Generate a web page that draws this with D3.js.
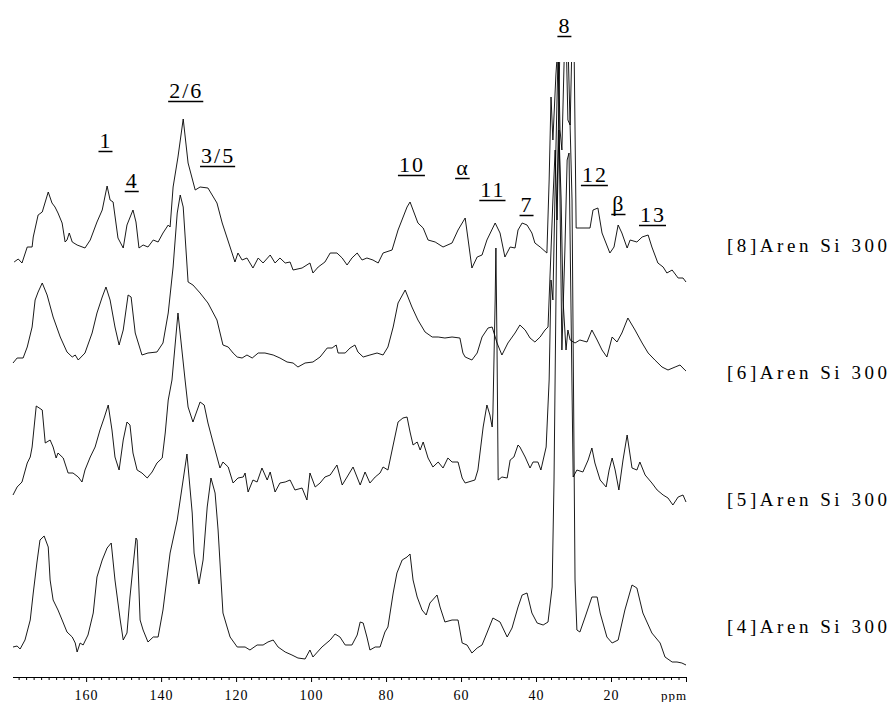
<!DOCTYPE html>
<html>
<head>
<meta charset="utf-8">
<script src="https://cdn.jsdelivr.net/npm/d3@7"></script>
<style>
  html, body { margin: 0; padding: 0; background: #fff; }
  svg { display: block; }
  svg text { font-family: "Liberation Serif", "DejaVu Serif", "Times New Roman", serif !important; fill: #000; }
</style>
</head>
<body>
<div id="chart"></div>
<script>
// 13C CP/MAS NMR spectra, chemical shift in ppm, intensity in arbitrary units
const ppmTicks = [160, 140, 120, 100, 80, 60, 40, 20];
const axisUnit = "ppm";

const sampleNames = ["[8]Aren Si 300", "[6]Aren Si 300", "[5]Aren Si 300", "[4]Aren Si 300"];
// vertical stacking offset of each spectrum (same units as the intensities)
const stackOffsets = [397, 307, 172, 12];

const spectrum8 = [
  [179.2,18],[178.1,21],[177.1,17],[175.7,33],[174.4,33],[174.1,43],[172.8,65],[171.7,68],[170.1,88],[169.1,77],
  [168.3,73],[167.5,67],[166.4,57],[165.6,38],[165.1,40],[164.5,47],[163.7,38],[162.4,35],[160.3,32],[158.9,40],
  [157.1,58],[155.7,70],[154.4,94],[153.6,80],[152.8,78],[151.5,42],[150.1,32],[149.1,55],[147.5,70],[146.7,58],
  [145.9,32],[144.8,35],[143.5,33],[142.1,40],[140.8,38],[139.5,47],[138.1,55],[137.6,53],[136.8,93],[135.5,123],
  [134.1,161],[132.8,117],[130.9,90],[129.6,93],[127.5,92],[125.1,77],[123.7,57],[121.6,33],[120.3,18],[119.5,27],
  [118.4,20],[117.1,22],[115.5,12],[114.1,22],[112.8,17],[110.9,25],[109.6,17],[108.3,22],[106.9,17],[105.6,18],
  [104.8,10],[102.4,12],[100.3,17],[99.5,7],[98.1,13],[96.3,18],[94.9,27],[93.1,27],[91.7,22],[90.4,15],
  [89.1,22],[87.7,27],[86.4,20],[85.1,22],[83.5,20],[82.1,17],[80.8,27],[78.4,30],[76.8,50],[74.4,73],
  [73.6,78],[72.8,70],[71.5,57],[70.1,52],[68.8,40],[66.9,38],[64.8,33],[62.4,37],[60.8,50],[58.9,62],
  [58.1,40],[57.1,12],[55.7,23],[54.4,25],[53.1,40],[50.9,57],[49.6,47],[48.3,23],[46.9,33],[45.6,32],
  [44.8,50],[43.7,57],[42.4,55],[41.1,47],[40.3,37],[38.9,33],[37.1,27],[36.5,100],[36.0,183],[35.5,140],
  [34.7,205],[34.1,240],[33.6,150],[33.1,130],[32.5,220],[32.0,250],[31.5,160],[30.9,155],[30.4,240],[29.9,250],
  [29.3,52],[28.3,52],[25.6,52],[24.8,70],[23.5,72],[22.4,47],[20.3,27],[19.2,33],[18.1,55],[17.1,47],
  [15.7,32],[14.9,40],[13.1,38],[11.7,43],[10.1,45],[9.1,33],[7.5,17],[6.1,13],[5.1,7],[3.7,10],
  [2.1,2],[0.8,2],[0.0,-2]
];

const spectrum6 = [
  [179.5,7],[178.4,12],[176.8,12],[175.7,23],[174.4,43],[173.6,70],[172.8,78],[171.7,87],[170.4,75],[168.8,53],
  [166.9,33],[165.1,18],[163.7,13],[162.9,15],[162.1,10],[160.3,17],[158.4,37],[157.1,57],[155.7,73],[154.7,83],
  [153.6,70],[152.3,43],[151.2,25],[150.1,40],[148.8,75],[148.0,73],[146.9,37],[145.1,15],[143.5,17],[141.1,18],
  [139.5,27],[138.1,57],[136.8,103],[135.7,157],[134.9,175],[134.1,163],[132.8,88],[131.5,85],[129.6,77],[127.5,67],
  [125.1,50],[123.5,25],[122.1,23],[120.8,17],[119.7,13],[118.4,12],[117.1,15],[115.7,12],[114.1,17],[112.3,17],
  [110.1,15],[108.3,12],[106.4,8],[104.8,7],[103.5,3],[101.6,7],[99.5,8],[97.6,13],[95.7,22],[94.4,22],
  [93.3,25],[92.8,17],[90.9,17],[89.6,22],[88.3,25],[87.5,18],[86.1,13],[84.3,15],[82.4,17],[80.8,15],
  [79.5,23],[78.1,43],[76.8,67],[74.9,80],[73.1,63],[71.5,50],[69.6,38],[67.7,33],[66.1,33],[64.3,32],
  [62.4,33],[60.3,32],[59.5,17],[58.9,13],[57.1,10],[55.7,17],[54.4,33],[52.8,42],[51.7,43],[50.4,27],
  [49.1,15],[47.5,27],[45.6,37],[44.3,45],[42.9,40],[41.6,32],[40.3,28],[38.9,33],[37.6,40],[36.8,43],
  [36.0,120],[35.5,170],[34.9,220],[34.4,150],[33.9,240],[33.3,170],[32.8,70],[32.0,20],[31.5,40],[30.9,30],
  [29.6,27],[28.3,30],[26.4,28],[25.1,40],[23.7,30],[22.4,20],[21.1,13],[19.7,33],[18.4,28],[17.1,37],
  [15.5,52],[13.6,40],[11.7,27],[10.1,17],[8.3,10],[6.4,3],[4.8,0],[2.9,3],[1.6,5],[0.3,0],[0.0,-1]
];

const spectrum5 = [
  [179.5,10],[178.4,18],[177.1,23],[175.7,42],[174.9,48],[174.4,58],[173.3,99],[171.7,95],[170.9,62],[169.6,65],
  [168.8,58],[168.0,47],[167.5,52],[166.1,47],[164.8,32],[163.5,32],[162.1,28],[161.1,23],[160.3,35],[158.9,48],
  [157.6,58],[156.3,75],[155.2,87],[154.1,100],[153.1,75],[152.3,48],[151.2,35],[150.1,65],[149.1,83],[148.3,80],
  [147.5,52],[146.4,35],[145.1,32],[143.7,27],[142.4,33],[141.1,42],[139.7,47],[138.9,72],[138.1,105],[137.1,125],
  [135.5,192],[133.6,125],[132.8,98],[131.5,83],[129.6,103],[128.5,100],[127.5,82],[126.1,62],[124.3,37],[123.5,43],
  [122.1,38],[120.8,22],[119.5,27],[118.1,28],[117.6,32],[116.8,13],[115.5,25],[114.4,23],[113.1,37],[111.7,25],
  [110.9,33],[109.6,13],[108.3,22],[106.9,23],[105.6,25],[104.3,15],[102.4,17],[101.1,5],[100.3,32],[98.9,18],
  [97.6,22],[96.3,28],[94.9,30],[93.1,40],[91.7,20],[90.4,28],[88.8,38],[86.9,20],[85.6,33],[84.3,22],
  [82.9,28],[81.6,32],[80.8,38],[79.5,35],[78.1,60],[76.8,83],[75.5,87],[74.4,88],[73.6,73],[72.8,60],
  [71.7,63],[70.9,55],[70.1,63],[68.8,47],[67.5,38],[66.1,43],[64.8,37],[63.5,47],[62.4,43],[60.8,43],
  [59.7,27],[58.9,22],[56.3,25],[55.5,35],[54.1,78],[53.1,100],[52.3,90],[51.7,78],[51.5,92],[50.9,205],
  [50.7,257],[50.4,155],[50.1,25],[49.1,28],[47.7,27],[46.9,45],[45.9,48],[44.8,60],[44.3,58],[42.9,48],
  [41.6,37],[40.8,43],[39.5,43],[38.7,35],[37.3,58],[36.5,125],[36.0,225],[35.5,205],[34.7,355],[34.1,455],
  [33.6,305],[33.1,155],[32.3,255],[31.7,345],[31.2,352],[30.7,205],[30.1,28],[29.1,35],[27.5,33],[26.1,45],
  [25.1,57],[24.3,42],[22.9,25],[21.3,18],[20.5,35],[19.7,47],[18.9,35],[17.9,15],[16.8,45],[15.7,70],
  [14.4,37],[13.1,35],[12.3,43],[10.9,30],[9.1,22],[7.7,15],[6.1,10],[4.8,7],[3.5,0],[2.1,8],[0.8,10],[0.0,3]
];

const spectrum4 = [
  [179.5,18],[178.4,19],[177.6,16],[176.3,25],[174.9,45],[174.1,72],[173.1,103],[172.3,125],[171.2,129],[170.1,118],
  [169.6,85],[168.8,65],[167.5,55],[166.4,45],[165.1,33],[163.7,28],[162.9,22],[162.4,13],[161.6,22],[160.8,20],
  [159.5,30],[158.1,52],[157.1,88],[155.7,105],[154.4,117],[153.3,122],[152.3,85],[150.9,45],[150.1,25],[149.1,32],
  [148.3,68],[147.5,98],[146.7,127],[146.4,125],[145.6,45],[144.8,35],[143.5,23],[142.1,28],[140.8,28],[139.5,55],
  [137.6,112],[135.7,145],[134.4,178],[133.1,211],[131.7,152],[131.2,112],[129.9,81],[128.8,105],[127.7,158],[126.7,187],
  [125.6,172],[124.8,135],[123.5,52],[122.4,38],[121.6,28],[119.7,18],[117.6,18],[116.3,15],[114.4,20],[112.8,20],
  [111.5,23],[110.1,25],[108.8,18],[106.9,13],[105.1,10],[103.5,7],[101.6,6],[100.3,15],[99.5,8],[97.1,18],
  [94.9,25],[93.6,31],[92.3,28],[90.9,20],[89.1,20],[87.7,30],[86.9,43],[86.1,42],[85.1,28],[84.3,15],
  [82.9,18],[81.6,18],[80.3,33],[79.5,38],[78.1,72],[77.1,92],[75.7,105],[74.4,108],[73.6,111],[72.8,85],
  [71.7,68],[70.4,55],[69.3,50],[68.3,62],[66.4,70],[65.6,58],[64.3,43],[62.4,45],[60.8,45],[59.7,22],
  [58.4,20],[57.1,12],[55.7,17],[54.4,20],[53.1,32],[51.5,47],[49.6,43],[47.7,28],[46.4,37],[44.8,58],
  [43.7,70],[42.4,72],[41.1,52],[39.7,42],[38.1,40],[36.8,43],[35.7,78],[35.2,185],[34.4,465],[33.6,625],
  [32.5,645],[31.5,625],[30.4,465],[29.6,85],[29.1,35],[28.3,33],[26.9,48],[25.1,68],[23.7,68],[22.9,52],
  [21.1,28],[19.7,22],[18.1,25],[16.3,55],[14.4,80],[13.1,77],[11.5,52],[9.1,32],[6.9,22],[5.6,8],
  [3.7,3],[2.4,3],[1.1,2],[0.0,0]
];

const spectra = [spectrum8, spectrum6, spectrum5, spectrum4];

// peak assignments: label, ppm position, height level of the label
const peakLabels = ["1", "4", "2/6", "3/5", "10", "\u03B1", "11", "7", "8", "12", "\u03B2", "13"];
const peakPpm    = [154.7, 147.7, 133.3, 124.8, 73.1, 59.5, 51.5, 42.4, 32.3, 24.3, 17.9, 8.8];
const peakLevel  = [529, 489, 579, 514, 505, 502, 480, 465, 644, 495, 466, 455];

const width = 889, height = 702;
const axisY = 677, plotTop = 62;
const serif = "'Liberation Serif', 'DejaVu Serif', 'Times New Roman', serif";

const svg = d3.select("#chart").append("svg")
  .attr("width", width).attr("height", height)
  .attr("font-family", serif);

const x = d3.scaleLinear().domain([179.5, 0]).range([13, 686]);
const y = d3.scaleLinear().domain([0, 615]).range([axisY, plotTop]);

svg.append("defs").append("clipPath").attr("id", "plot-clip")
  .append("rect").attr("x", 0).attr("y", plotTop).attr("width", 700).attr("height", axisY - plotTop);

const line = d3.line()
  .x(d => x(d[0]))
  .y(d => d[1]);

const traces = svg.append("g").attr("clip-path", "url(#plot-clip)");
spectra.forEach((s, i) => {
  traces.append("path")
    .datum(s.map(p => [p[0], y(stackOffsets[i] + p[1])]))
    .attr("fill", "none")
    .attr("stroke", "#000")
    .attr("stroke-width", 0.9)
    .attr("stroke-linejoin", "round")
    .attr("d", line);
});

// chemical shift axis with minor ticks every 2 ppm
const minorTicks = d3.range(178, 0, -2).filter(v => v % 20 !== 0);
const axisG = svg.append("g").attr("transform", `translate(0,${axisY})`);
axisG.call(d3.axisBottom(x).tickValues(minorTicks).tickSize(3).tickFormat(""));
axisG.call(g => g.select(".domain").remove());
const majorG = svg.append("g").attr("transform", `translate(0,${axisY})`);
majorG.call(d3.axisBottom(x).tickValues(ppmTicks.concat([0])).tickSize(5).tickPadding(8)
  .tickFormat(d => d === 0 ? "" : d));
majorG.attr("font-family", serif);
majorG.select(".domain").attr("d", `M${x(179.5)},0.5H${x(0)}`).attr("stroke", "#000");
svg.selectAll(".tick line").attr("stroke", "#000");
majorG.selectAll(".tick text")
  .style("font-size", "14px")
  .style("letter-spacing", "1px")
  .attr("fill", "#000");
svg.append("text")
  .attr("x", x(0) + 1).attr("y", axisY + 23)
  .attr("text-anchor", "end")
  .style("font-size", "13px")
  .style("letter-spacing", "1px")
  .text(axisUnit);

// peak assignment labels, underlined
const peakG = svg.append("g");
peakLabels.forEach((t, i) => {
  const tx = peakG.append("text")
    .attr("x", x(peakPpm[i]))
    .attr("y", y(peakLevel[i]))
    .attr("text-anchor", "middle")
    .style("font-size", "22px")
    .style("letter-spacing", "2px")
    .text(t);
  const bb = tx.node().getBBox();
  peakG.append("line")
    .attr("x1", bb.x - 1).attr("x2", bb.x + bb.width)
    .attr("y1", y(peakLevel[i]) + 3.5).attr("y2", y(peakLevel[i]) + 3.5)
    .attr("stroke", "#000").attr("stroke-width", 1.5);
});

// sample names at the right
sampleNames.forEach((name, i) => {
  svg.append("text")
    .attr("x", 727)
    .attr("y", 252 + i * 127)
    .attr("textLength", 160)
    .attr("lengthAdjust", "spacing")
    .style("font-size", "19px")
    .text(name);
});
</script>
</body>
</html>
